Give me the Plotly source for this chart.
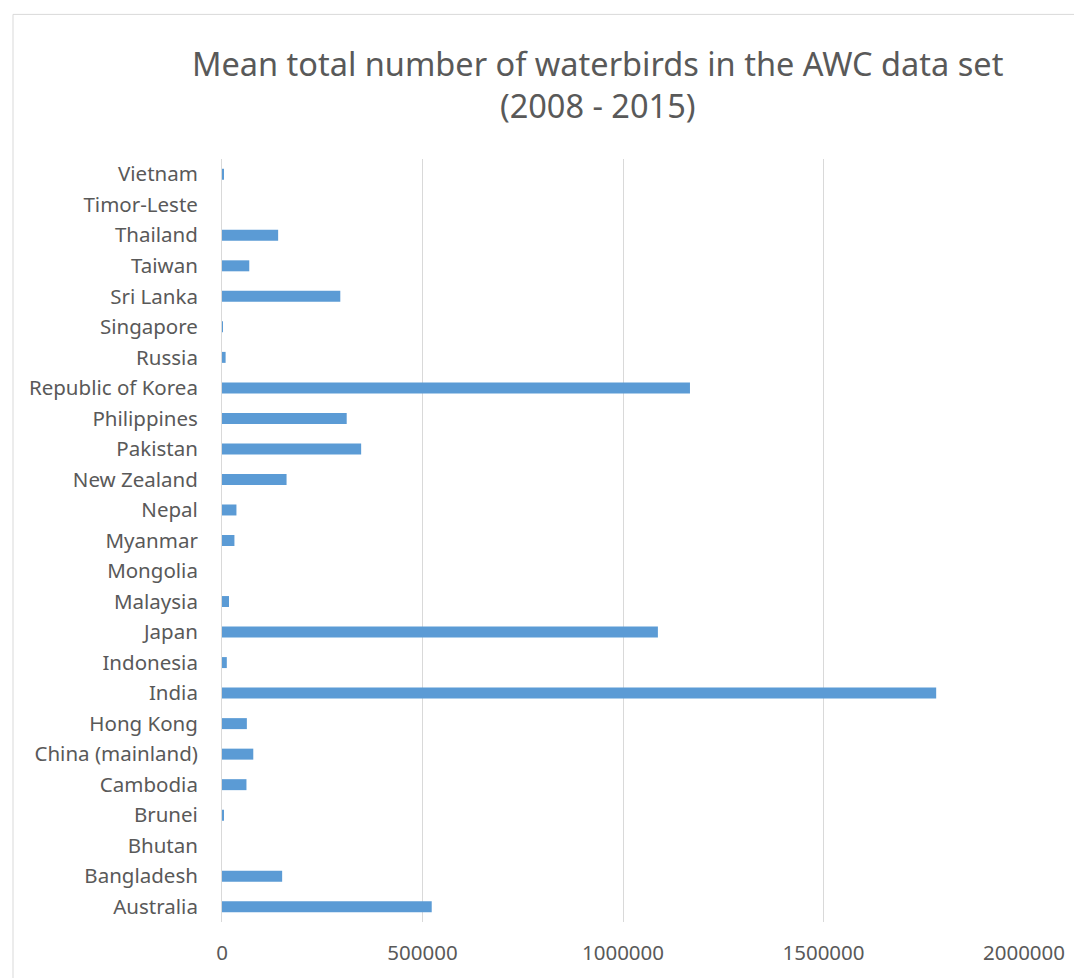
import plotly.graph_objects as go

countries = ["Australia", "Bangladesh", "Bhutan", "Brunei", "Cambodia", "China (mainland)",
             "Hong Kong", "India", "Indonesia", "Japan", "Malaysia", "Mongolia", "Myanmar",
             "Nepal", "New Zealand", "Pakistan", "Philippines", "Republic of Korea", "Russia",
             "Singapore", "Sri Lanka", "Taiwan", "Thailand", "Timor-Leste", "Vietnam"]
mean_counts = [523000, 150000, 0, 4000, 61000, 78000,
               62000, 1781000, 12000, 1087000, 17500, 0, 31000,
               36000, 161000, 347000, 311000, 1167000, 9000,
               2000, 295000, 68000, 140000, 0, 5000]
x_ticks = [0, 500000, 1000000, 1500000, 2000000]

grey = "#595959"
fam = "Noto Sans, Open Sans, sans-serif"
fig = go.Figure(go.Bar(
    x=mean_counts, y=countries, orientation="h",
    marker=dict(color="#5B9BD5", line=dict(width=0)),
    width=0.36,
))

OFF = 8  # page body margin
W, H = 1082 - OFF, 978 - OFF
L, R, T, B = 222 - OFF, 58, 159 - OFF, 54
pw, ph = W - L - R, H - T - B


def px(x):
    return (x - OFF - L) / pw


def py(y):
    return (H - B - (y - OFF)) / ph


fig.update_layout(
    width=W, height=H,
    margin=dict(l=L, r=R, t=T, b=B),
    paper_bgcolor="white", plot_bgcolor="white",
    font=dict(family=fam, color=grey, size=20.5),
    showlegend=False,
    annotations=[dict(
        text="Mean total number of waterbirds in the AWC data set<br>(2008 - 2015)",
        xref="paper", yref="paper",
        x=px(598), y=py(84),
        xanchor="center", yanchor="middle",
        showarrow=False,
        font=dict(size=32.5, color=grey, family=fam),
    )],
    shapes=[dict(
        type="rect", xref="paper", yref="paper",
        x0=px(13), x1=px(1100),
        y0=py(1000), y1=py(14),
        line=dict(color="#D9D9D9", width=1), fillcolor="rgba(0,0,0,0)", layer="below",
    )],
)
fig.update_xaxes(
    range=[0, 2000000], tickvals=x_ticks, ticktext=[str(v) for v in x_ticks],
    showgrid=True, gridcolor="#D9D9D9", gridwidth=1, zeroline=False,
    showline=False, ticks="", ticklabelstandoff=16,
    tickfont=dict(size=20.5, color=grey),
)
fig.update_yaxes(
    categoryorder="array", categoryarray=countries,
    showgrid=False, zeroline=False, showline=True, linecolor="#D9D9D9", linewidth=1,
    ticks="", ticklabelstandoff=19,
    tickfont=dict(size=20.5, color=grey),
)

fig.write_html("out.html")
